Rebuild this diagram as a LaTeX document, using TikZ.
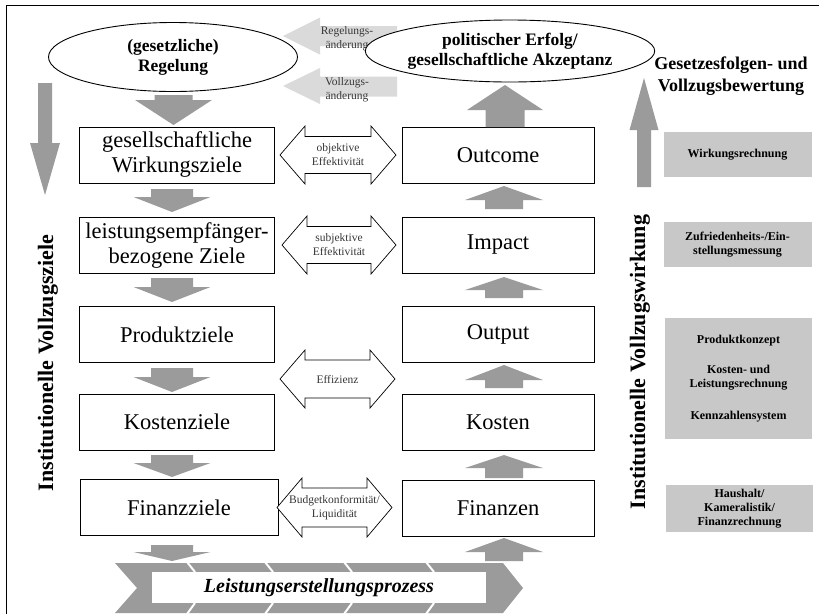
\documentclass[tikz,border=0pt]{standalone}
\usepackage{fontspec}
\setmainfont{Liberation Serif}
\usetikzlibrary{shapes.geometric}
\definecolor{arrgray}{RGB}{155,155,155}
\definecolor{lightarr}{RGB}{218,218,218}
\definecolor{boxgray}{RGB}{200,200,200}
\definecolor{lbltext}{RGB}{55,55,55}
% block arrow: x center, body end, head base, tip, body half width, head half width
\newcommand{\blockarrow}[6]{%
  \fill[arrgray] ({#1-#5},#2) -- ({#1+#5},#2) -- ({#1+#5},#3) -- ({#1+#6},#3) -- (#1,#4) -- ({#1-#6},#3) -- ({#1-#5},#3) -- cycle;}
% double white arrow: x left tip, x right tip, y center, head half, body half
\newcommand{\dblarrow}[5]{%
  \draw[line width=0.7pt, fill=white] (#1,#3) -- ({#1+25},{#3-#4}) -- ({#1+25},{#3-#5}) -- ({#2-25},{#3-#5}) -- ({#2-25},{#3-#4}) -- (#2,#3) -- ({#2-25},{#3+#4}) -- ({#2-25},{#3+#5}) -- ({#1+25},{#3+#5}) -- ({#1+25},{#3+#4}) -- cycle;}
\begin{document}
\begin{tikzpicture}[x=1pt,y=-1pt,
  zielbox/.style={draw, line width=0.9pt, fill=white, minimum height=56pt, inner sep=0pt, align=center, font=\fontsize{22.5}{25}\selectfont},
  ell/.style={draw, line width=0.9pt, fill=white, ellipse, inner sep=0pt, align=center, font=\bfseries\fontsize{17.5}{20}\selectfont},
  grbox/.style={fill=boxgray, minimum width=148pt, inner sep=0pt, align=center, font=\bfseries\fontsize{12}{14}\selectfont},
  arrlbl/.style={align=center, text=lbltext, font=\fontsize{11.5}{14}\selectfont, inner sep=0pt},
  sidelbl/.style={rotate=90, anchor=base, font=\bfseries\fontsize{22}{24}\selectfont, inner sep=0pt}
]
\useasboundingbox (0,0) rectangle (819,614);
% frame
\draw[line width=1pt] (6,614) -- (6,5) -- (819,5);

% light feedback arrows
\fill[lightarr] (283,36) -- (320,17.5) -- (320,26) -- (397,26) -- (397,46) -- (320,46) -- (320,54.5) -- cycle;
\fill[lightarr] (283,86) -- (320,68) -- (320,76.5) -- (397,76.5) -- (397,96.5) -- (320,96.5) -- (320,104) -- cycle;
\node[arrlbl] (regaend) at (347,38.5) {Regelungs-\\änderung};
\node[arrlbl] (vollaend) at (347,90) {Vollzugs-\\änderung};

% ellipses
\node[ell, minimum width=249pt, minimum height=69pt] (reg) at (173,57) {(gesetzliche)\\Regelung};
\node[ell, minimum width=258pt, minimum height=62pt] (pol) at (510,51) {politischer Erfolg/\\gesellschaftliche Akzeptanz};

% left column
\node[zielbox, minimum width=195pt] (wz) at (177,155) {gesellschaftliche\\Wirkungsziele};
\node[zielbox, minimum width=195pt] (lz) at (177,245) {leistungsempfänger-\\bezogene Ziele};
\node[zielbox, minimum width=195pt] (pz) at (177,334.5) {Produktziele};
\node[zielbox, minimum width=195pt] (kz) at (177,422) {Kostenziele};
\node[zielbox, minimum width=198pt] (fz) at (179,507.5) {Finanzziele};

% right column
\node[zielbox, minimum width=192pt] (oc) at (498,155) {Outcome};
\node[zielbox, minimum width=192pt] (im) at (498,245) {Impact};
\node[zielbox, minimum width=192pt] (op) at (498,334.5) {Output};
\node[zielbox, minimum width=192pt] (ko) at (498,422) {Kosten};
\node[zielbox, minimum width=192pt] (fi) at (498,508) {Finanzen};

% down arrows (left)
\blockarrow{173.5}{95}{100}{125}{19}{38.5}
\blockarrow{172}{189}{197}{212}{21}{38.5}
\blockarrow{172}{278}{287}{302}{21}{38.5}
\blockarrow{172}{368}{377}{392}{21}{38.5}
\blockarrow{172}{455}{463}{477}{21}{38.5}
\blockarrow{172}{545}{552}{561}{21}{38.5}

% up arrows (right)
\blockarrow{504}{561}{552}{538}{19}{39}
\blockarrow{504}{478}{468}{455}{19}{39}
\blockarrow{504}{388}{380}{365}{19}{39}
\blockarrow{504}{298}{290}{277}{19}{39}
\blockarrow{504}{209}{200}{186}{19}{39}
\blockarrow{505}{127}{110}{85}{19.5}{38}

% big side arrows
\blockarrow{45}{83}{143}{195}{7}{15}
\blockarrow{644}{187}{130}{78}{7}{14.5}

% double arrows
\dblarrow{280}{396}{155}{29}{18.5}
\dblarrow{282}{396}{245}{29}{18.5}
\dblarrow{280}{395}{379}{29}{19}
\dblarrow{277}{392}{507.5}{29.5}{19.5}
\node[arrlbl] (objeff) at (338,155) {objektive\\Effektivität};
\node[arrlbl] (subeff) at (339,245) {subjektive\\Effektivität};
\node[arrlbl] (eff) at (337.5,379) {Effizienz};
\node[arrlbl] (budget) at (334.5,507.5) {Budgetkonformität/\\Liquidität};

% side labels
\node[sidelbl] (ivz) at (53,363) {Institutionelle Vollzugsziele};
\node[sidelbl] (ivw) at (645,362) {Institutionelle Vollzugswirkung};
\node[align=center, font=\bfseries\fontsize{18}{22}\selectfont, inner sep=0pt] (gfv) at (731,76) {Gesetzesfolgen- und\\Vollzugsbewertung};

% gray boxes
\node[grbox, minimum height=45pt] (wr) at (737.5,154.5) {Wirkungsrechnung};
\node[grbox, minimum height=45pt] (zm) at (737.5,244.5) {Zufriedenheits-/Ein-\\stellungsmessung};
\node[grbox, minimum width=147pt, minimum height=121pt] (pk) at (738.5,378.5) {Produktkonzept\\[16pt]Kosten- und\\Leistungsrechnung\\[18pt]Kennzahlensystem};
\node[grbox, minimum width=147pt, minimum height=47pt] (hh) at (739.5,508.5) {Haushalt/\\Kameralistik/\\Finanzrechnung};

% process chevron
\fill[arrgray] (115,563) -- (503,563) -- (523,588) -- (503,613) -- (115,613) -- (137,588) -- cycle;
\foreach \sx in {191,269,348,430} {
  \draw[white, line width=2pt] ({\sx-4},562) -- ({\sx+4},572);
  \draw[white, line width=2pt] ({\sx-4},614) -- ({\sx+4},603);
}
\node[fill=white, minimum width=334pt, minimum height=31pt, inner sep=0pt, font=\bfseries\itshape\fontsize{20}{22}\selectfont] (lep) at (319,587.5) {Leistungserstellungsprozess};
\end{tikzpicture}
\end{document}
